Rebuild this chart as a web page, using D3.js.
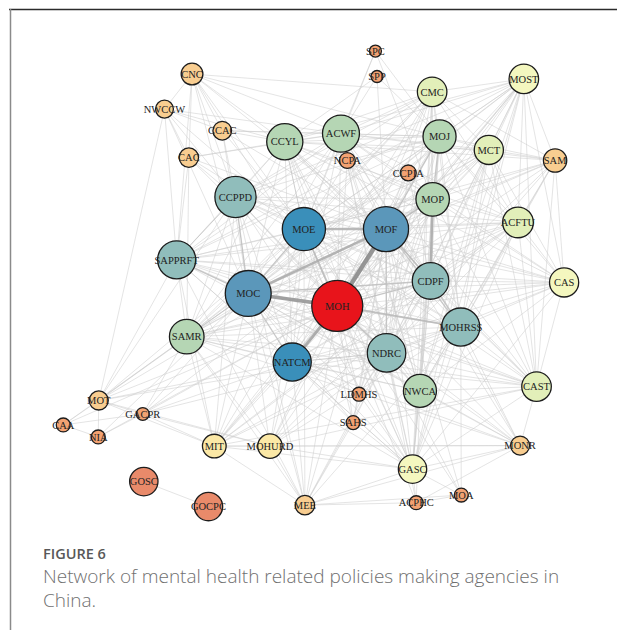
<!DOCTYPE html>
<html>
<head>
<meta charset="utf-8">
<script src="https://cdn.jsdelivr.net/npm/d3@7"></script>
<style>
  body { margin: 0; background: #fff; }
  svg { display: block; }
</style>
</head>
<body>
<div id="chart"></div>
<script>
// Agencies (nodes): name, layout coordinates (0-100 space), weight, colour class
var names = ["SPC", "SPP", "CNC", "NWCCW", "CCAC", "CAC", "CCYL", "ACWF", "NCPA", "CMC",
  "MOST", "MOJ", "MCT", "SAM", "CCPIA", "CCPPD", "MOP", "MOE", "MOF", "ACFTU",
  "SAPPRFT", "CDPF", "CAS", "MOC", "MOH", "MOHRSS", "SAMR", "NDRC", "NATCM", "NWCA",
  "CAST", "LDMHS", "MOT", "GACPR", "CAA", "NIA", "SAHS", "MIT", "MOHURD", "MONR",
  "GASC", "GOSC", "GOCPC", "MEE", "ACPHC", "MOA"];
var layoutX = [61.4, 61.7, 26.8, 21.6, 32.5, 26.2, 44.3, 54.9, 56.1, 72.1,
  89.4, 73.5, 82.8, 95.3, 67.6, 35.0, 72.2, 47.9, 63.4, 88.3,
  23.9, 71.8, 97.0, 37.4, 54.2, 77.5, 25.8, 63.5, 45.7, 69.8,
  91.8, 58.3, 9.2, 17.5, 2.5, 9.1, 57.2, 31.0, 41.5, 88.7,
  68.4, 17.7, 29.9, 48.1, 69.1, 77.6];
var layoutY = [2.3, 7.6, 7.1, 14.4, 18.9, 24.5, 21.2, 19.5, 25.1, 10.8,
  8.1, 20.1, 22.9, 25.1, 27.7, 32.7, 33.2, 39.4, 39.4, 38.0,
  45.8, 50.2, 50.5, 52.8, 55.4, 59.8, 61.8, 65.2, 67.1, 73.1,
  72.2, 73.8, 75.1, 77.9, 80.2, 82.7, 79.7, 84.6, 84.6, 84.5,
  89.4, 92.0, 97.2, 96.9, 96.4, 94.8];
var weights = [0, 0, 25, 15, 17, 19, 62, 64, 10, 45,
  45, 54, 44, 29, 10, 75, 55, 80, 85, 48,
  67, 63, 44, 87, 100, 67, 58, 68, 67, 54,
  45, 5, 18, 2, 5, 5, 5, 30, 32, 18,
  42, 42, 42, 19, 5, 5];
var classes = [9, 9, 8, 8, 8, 8, 4, 4, 9, 5,
  6, 4, 5, 8, 9, 3, 4, 1, 2, 5,
  3, 3, 6, 2, 0, 3, 4, 3, 1, 4,
  5, 9, 8, 9, 9, 9, 9, 7, 7, 8,
  6, 10, 10, 8, 9, 9];

// Co-issuing ties: each line lists one agency and its partners
var adjacency = [
  "MOH: MOF MOE MOC NATCM NDRC CDPF MOHRSS CCPPD SAPPRFT MOP MOJ ACWF CCYL SAMR NWCA CMC MOST MCT SAM ACFTU CAS CAST MONR GASC ACPHC MOA MEE MIT MOHURD MOT GACPR CAA NIA LDMHS SAHS NCPA CCPIA CNC CAC",
  "MOF: MOE MOC NATCM NDRC CDPF MOHRSS CCPPD SAPPRFT MOP MOJ ACWF CCYL SAMR NWCA CMC MOST MCT SAM ACFTU CAS CAST MONR GASC MOA MEE MIT MOHURD MOT GACPR LDMHS SAHS NCPA CCPIA CNC CCAC CAC SPP",
  "MOE: MOC NATCM NDRC CDPF MOHRSS CCPPD SAPPRFT MOP MOJ ACWF CCYL SAMR NWCA CMC MOST MCT SAM ACFTU CAS CAST MONR GASC MEE MIT MOHURD MOT LDMHS SAHS NCPA CNC NWCCW CCAC CAC SPC",
  "MOC: NATCM NDRC CDPF MOHRSS CCPPD SAPPRFT MOP MOJ ACWF CCYL SAMR NWCA CMC MOST MCT SAM ACFTU CAS CAST MONR GASC MEE MIT MOHURD MOT GACPR CAA NIA LDMHS SAHS CCPIA CNC NWCCW CCAC",
  "NATCM: NDRC CDPF MOHRSS CCPPD SAPPRFT MOP MOJ ACWF CCYL SAMR NWCA CMC MOST MCT ACFTU CAS CAST MONR GASC MEE MIT MOHURD MOT GACPR LDMHS SAHS",
  "NDRC: CDPF MOHRSS CCPPD SAPPRFT MOP MOJ ACWF CCYL SAMR NWCA CMC MOST MCT SAM ACFTU CAS CAST MONR GASC ACPHC MOA MEE MIT MOHURD MOT GACPR LDMHS SAHS CCPIA",
  "CDPF: MOHRSS CCPPD SAPPRFT MOP MOJ ACWF CCYL SAMR NWCA CMC MOST MCT SAM ACFTU CAS CAST MONR GASC MEE MIT MOHURD NCPA CCPIA LDMHS",
  "MOHRSS: CCPPD SAPPRFT MOP MOJ ACWF CCYL SAMR NWCA CMC MOST MCT SAM ACFTU CAS CAST MONR GASC MOA MEE MIT MOHURD",
  "CCPPD: SAPPRFT MOP MOJ ACWF CCYL SAMR NWCA CMC MOST ACFTU CAS GASC MEE MIT MOT CNC NWCCW CCAC CAC",
  "SAPPRFT: MOP MOJ ACWF CCYL SAMR NWCA CMC MOST ACFTU CAS CAST GASC MEE MIT MOT CNC NWCCW CAC",
  "MOP: MOJ ACWF CCYL SAMR NWCA CMC MOST MCT SAM ACFTU CAS CAST GASC NCPA CCPIA LDMHS SPC",
  "MOJ: ACWF CCYL SAMR NWCA CMC MOST MCT SAM ACFTU CAS CAST GASC NCPA CCPIA LDMHS CNC CCAC SPC SPP",
  "ACWF: CCYL SAMR NWCA CMC MOST MCT SAM ACFTU CAS CAST GASC NCPA CNC NWCCW CCAC CAC SPC SPP",
  "CCYL: SAMR NWCA CMC MOST MCT SAM ACFTU CAS CAST GASC CNC NWCCW CCAC CAC SPP",
  "SAMR: NWCA CMC MOST MCT ACFTU CAS CAST MONR GASC MEE MIT MOHURD MOT GACPR CAC",
  "NWCA: CMC MOST MCT SAM ACFTU CAS CAST MONR GASC ACPHC NCPA",
  "CMC: MOST MCT SAM ACFTU GASC MIT CNC",
  "MOST: MCT SAM ACFTU CAS CAST MOHURD GASC MIT",
  "MCT: SAM ACFTU CAST CAS GASC",
  "SAM: ACFTU CAS CAST",
  "ACFTU: CAS CAST GASC MIT",
  "CAS: CAST GASC",
  "CAST: MONR GASC MIT MOHURD",
  "MONR: MIT MOHURD MEE GASC ACPHC",
  "GASC: ACPHC MOA MEE SAHS LDMHS MIT MOHURD",
  "ACPHC: MEE MOA",
  "MEE: MOA",
  "MIT: MOHURD MEE GACPR MOT",
  "MOHURD: MEE MOT GACPR",
  "MOT: CAA NIA GACPR NWCCW",
  "GACPR: CAA NIA",
  "CAA: NIA",
  "GOSC: GOCPC",
  "CNC: NWCCW CAC CCAC",
  "NWCCW: CAC CCAC",
  "SAHS: LDMHS MEE"
];
// Ties with more joint documents than one
var strongTies = [
  ["MOH", "MOF", 6], ["MOH", "MOC", 5], ["MOH", "NATCM", 4], ["MOC", "MOF", 3.5],
  ["MOP", "CDPF", 3.5], ["MOE", "MOF", 3], ["MOH", "MOE", 2.5], ["MOH", "MOHRSS", 2.5],
  ["MOF", "CDPF", 2.5], ["MOF", "MOP", 2.5], ["MOC", "MOE", 2], ["MOJ", "MOP", 2],
  ["MOH", "CDPF", 2], ["MOH", "NDRC", 2], ["MOF", "NDRC", 2], ["MOC", "CCPPD", 2],
  ["MOC", "SAPPRFT", 2], ["MOC", "CDPF", 2], ["CDPF", "MOHRSS", 2], ["MOF", "MOJ", 2],
  ["MOC", "NATCM", 1.8], ["MOF", "MOHRSS", 1.8], ["MOC", "SAMR", 1.5], ["MOE", "CCYL", 1.5],
  ["SAPPRFT", "CCPPD", 1.5], ["NATCM", "NDRC", 1.5]
];

var palette = ["#e8141b", "#3a8fba", "#5b97ba", "#90bdbb", "#b5d6b4", "#e2efb9",
  "#f4f7bf", "#fbe8a6", "#f8cd90", "#f3a272", "#e98a6a"];

var width = 617;
var height = 630;
var svg = d3.select('#chart')
    .append("svg")
    .attr("width", width)
    .attr("height", height);

// frame lines
svg.append("line").attr("x1", 9).attr("x2", 617).attr("y1", 9.5).attr("y2", 9.5)
    .style("stroke", "#2b2b2b").style("stroke-width", 1.5);
svg.append("line").attr("x1", 10.5).attr("x2", 10.5).attr("y1", 9).attr("y2", 630)
    .style("stroke", "#8a8a8a").style("stroke-width", 1.5);

var xScale = d3.scaleLinear().domain([0, 100]).range([50, 580]);
var yScale = d3.scaleLinear().domain([0, 100]).range([40, 520]);
var rScale = d3.scaleLinear().domain([0, 100]).range([6, 25.5]);
var colorScale = d3.scaleOrdinal().domain(d3.range(palette.length)).range(palette);
var wScale = d3.scaleLinear().domain([1, 6]).range([0.6, 4.4]);
var eColor = d3.scaleLinear().domain([1, 6]).range(["#cdcdcd", "#8a8a8a"]);

var nodes = names.map(function (n, i) {
    return { id: n, x: xScale(layoutX[i]), y: yScale(layoutY[i]), r: rScale(weights[i]), c: classes[i] };
});
var byId = {};
nodes.forEach(function (d) { byId[d.id] = d; });

var strength = {};
strongTies.forEach(function (t) {
    strength[t[0] + "|" + t[1]] = t[2];
    strength[t[1] + "|" + t[0]] = t[2];
});
var seen = {};
var links = [];
adjacency.forEach(function (row) {
    var parts = row.split(":");
    var src = parts[0].trim();
    parts[1].trim().split(/\s+/).forEach(function (tgt) {
        var key = src < tgt ? src + "|" + tgt : tgt + "|" + src;
        if (seen[key]) return;
        seen[key] = true;
        links.push({ source: byId[src], target: byId[tgt], w: strength[src + "|" + tgt] || 1 });
    });
});
links.sort(function (a, b) { return a.w - b.w; });

var linkGroup = svg.append('g').classed('links', true);
linkGroup.selectAll('line')
    .data(links)
    .enter()
    .append('line')
    .attr('x1', function (d) { return d.source.x; })
    .attr('y1', function (d) { return d.source.y; })
    .attr('x2', function (d) { return d.target.x; })
    .attr('y2', function (d) { return d.target.y; })
    .style('stroke', function (d) { return eColor(d.w); })
    .style('stroke-opacity', 0.9)
    .style('stroke-width', function (d) { return wScale(d.w); });

var nodeGroup = svg.append('g').classed('nodes', true);
nodeGroup.selectAll('circle')
    .data(nodes)
    .enter()
    .append('circle')
    .attr('cx', function (d) { return d.x; })
    .attr('cy', function (d) { return d.y; })
    .attr('r', function (d) { return d.r; })
    .style('fill', function (d) { return colorScale(d.c); })
    .style('stroke', '#1c1c1c')
    .style('stroke-width', 1.3);

var labelGroup = svg.append('g').classed('labels', true);
labelGroup.selectAll('text')
    .data(nodes)
    .enter()
    .append('text')
    .text(function (d) { return d.id; })
    .attr('x', function (d) { return d.x; })
    .attr('y', function (d) { return d.y; })
    .attr('dy', '0.35em')
    .attr('text-anchor', 'middle')
    .style('font-family', '"Liberation Serif", "DejaVu Serif", serif')
    .style('font-size', '10.5px')
    .style('fill', '#222');

// caption
svg.append('text')
    .text('FIGURE 6')
    .attr('x', 43)
    .attr('y', 559)
    .style('font-family', '"Open Sans", sans-serif')
    .style('font-weight', 600)
    .style('font-size', '14.5px')
    .style('fill', '#585858');
svg.append('text')
    .text('Network of mental health related policies making agencies in')
    .attr('x', 43)
    .attr('y', 583)
    .style('font-family', '"Open Sans", sans-serif')
    .style('font-weight', 300)
    .style('font-size', '19px')
    .style('fill', '#707070');
svg.append('text')
    .text('China.')
    .attr('x', 43)
    .attr('y', 607)
    .style('font-family', '"Open Sans", sans-serif')
    .style('font-weight', 300)
    .style('font-size', '19px')
    .style('fill', '#707070');
</script>
</body>
</html>
